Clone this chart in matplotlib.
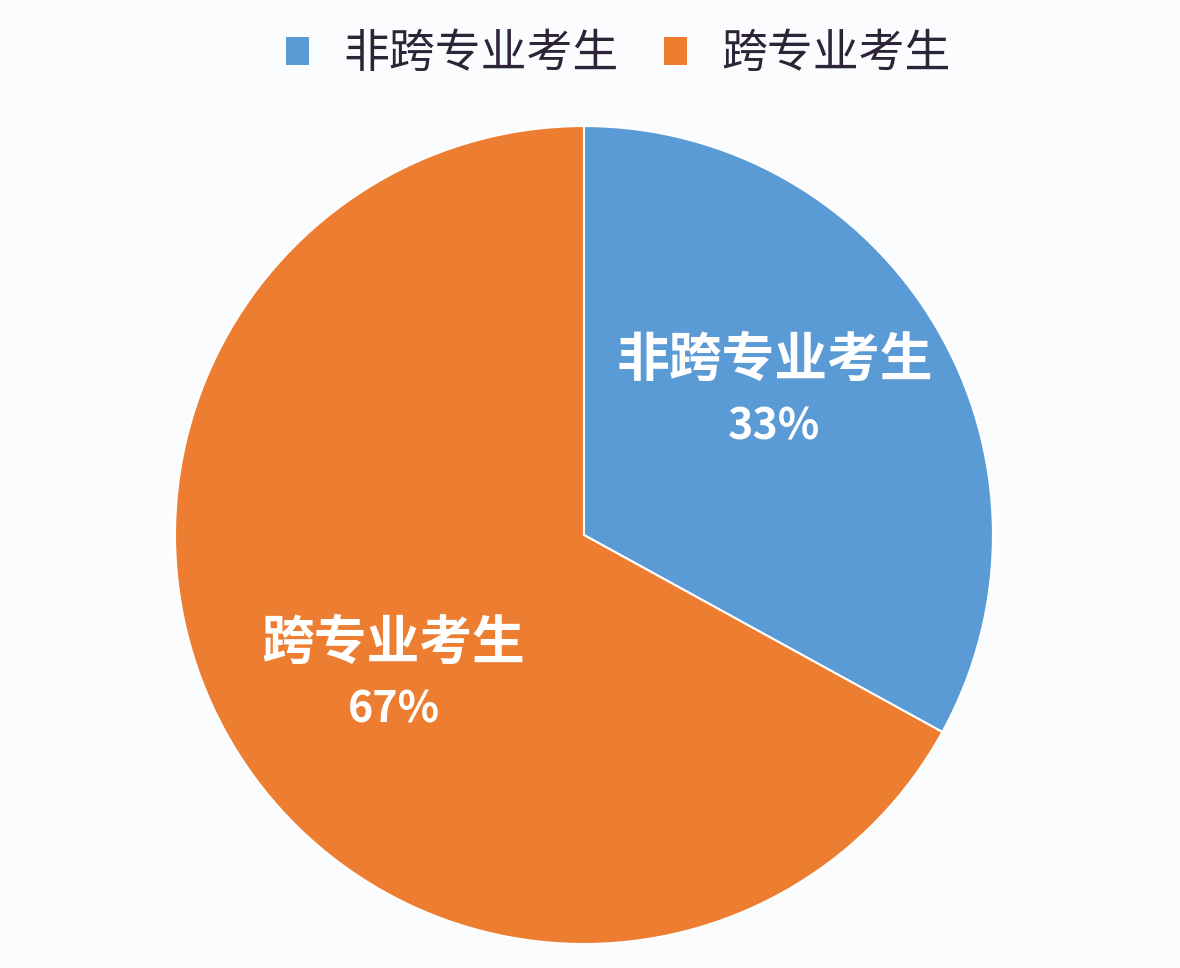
import numpy as np
import matplotlib
matplotlib.use("Agg")
import matplotlib.pyplot as plt
from matplotlib.patches import Patch

# data
categories = ["非跨专业考生", "跨专业考生"]
shares = [33, 67]
colors = ["#5B9BD5", "#ED7D31"]

plt.rcParams['font.family'] = ['Noto Sans CJK SC', 'DejaVu Sans']

fig = plt.figure(figsize=(11.8, 9.68), dpi=100)
fig.patch.set_facecolor("#fbfcfe")
ax = fig.add_axes([0.1483, 0.0248, 0.6932, 0.845])

wedges, _ = ax.pie(shares, colors=colors, startangle=90, counterclock=False,
                   wedgeprops=dict(edgecolor="white", linewidth=1.5))
ax.set_xlim(-1.0, 1.0)
ax.set_ylim(-1.0, 1.0)
ax.set_aspect("equal")

# labels inside each wedge
for w, name, val in zip(wedges, categories, shares):
    mid = np.deg2rad((w.theta1 + w.theta2) / 2 + 6)
    x, y = 0.58 * np.cos(mid), 0.58 * np.sin(mid)
    ax.text(x, y + 0.08, name, ha="center", va="center", color="white",
            fontsize=38, fontweight="bold")
    ax.text(x, y - 0.08, f"{val}%", ha="center", va="center", color="white",
            fontsize=31, fontweight="bold")

handles = [Patch(facecolor=c, edgecolor="none") for c in colors]
fig.legend(handles, categories, loc="upper center", bbox_to_anchor=(0.524, 1.012),
           ncol=2, frameon=False, handlelength=0.5, handleheight=0.55,
           handletextpad=0.75, columnspacing=1.0, labelcolor="#2e2438",
           prop=dict(family=['Noto Sans CJK SC', 'DejaVu Sans'], size=33, weight="light"))

fig.savefig("out.png", dpi=100, facecolor=fig.get_facecolor())
